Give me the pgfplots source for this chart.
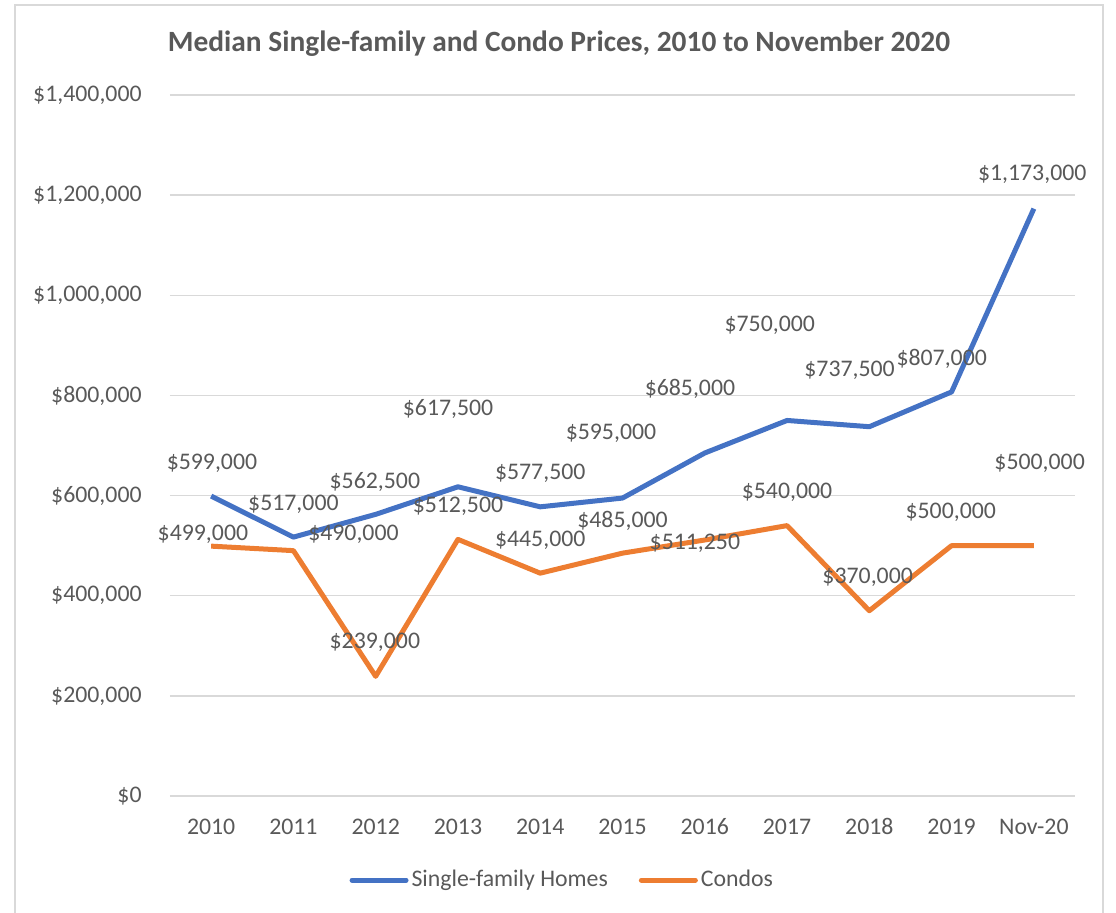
\documentclass[border=0pt]{standalone}
\usepackage{fontspec}
\setmainfont{Carlito}
\usepackage{pgfplots}
\pgfplotsset{compat=1.18}
\definecolor{sfblue}{HTML}{4472C4}
\definecolor{cdorange}{HTML}{ED7D31}
\definecolor{txt}{HTML}{595959}
\definecolor{gridgray}{HTML}{D9D9D9}
\begin{document}
\begin{tikzpicture}
\useasboundingbox (0pt,0pt) rectangle (558pt,-456.5pt);
\draw[gridgray, line width=0.75pt] (7.5pt,-470pt) -- (7.5pt,-2.5pt) -- (551.5pt,-2.5pt) -- (551.5pt,-470pt);
\node[font=\fontsize{14.7}{17}\selectfont\bfseries, text=txt] at (279.5pt,-22pt) {Median Single-family and Condo Prices, 2010 to November 2020};
\begin{axis}[
  at={(85pt,-398pt)}, anchor=south west,
  scale only axis, width=452.5pt, height=350.5pt,
  xmin=-0.5, xmax=10.5, ymin=0, ymax=1400000,
  axis line style={draw=none},
  major tick length=0pt,
  xmajorgrids=false, ymajorgrids=true,
  y grid style={gridgray, line width=0.75pt},
  xtick={0,...,10},
  xticklabels={2010,2011,2012,2013,2014,2015,2016,2017,2018,2019,Nov-20},
  ytick={0,200000,400000,600000,800000,1000000,1200000,1400000},
  yticklabels={{\$0},{\$200,000},{\$400,000},{\$600,000},{\$800,000},{\$1,000,000},{\$1,200,000},{\$1,400,000}},
  scaled y ticks=false,
  ticklabel style={font=\fontsize{11.9}{14}\selectfont, text=txt},
  yticklabel style={anchor=east, inner sep=0pt, xshift=-14pt},
  xticklabel style={anchor=base, inner sep=0pt, yshift=-19.25pt},
  clip=false,
  legend columns=2,
  legend style={at={(0.434,-0.12)}, anchor=center, draw=none, fill=none,
    font=\fontsize{11.9}{14}\selectfont, text=txt,
    /tikz/every even column/.append style={column sep=14pt},
    inner sep=0pt, nodes={inner sep=1.5pt}},
  legend image code/.code={\draw[#1, line cap=round] (0pt,0pt) -- (27pt,0pt);},
  every axis plot/.append style={line width=2.5pt, line join=round},
]
\addplot[sfblue, mark=none] coordinates {(0,599000) (1,517000) (2,562500) (3,617500) (4,577500) (5,595000) (6,685000) (7,750000) (8,737500) (9,807000) (10,1173000)};
\addlegendentry{Single-family Homes}
\addplot[cdorange, mark=none] coordinates {(0,499000) (1,490000) (2,239000) (3,512500) (4,445000) (5,485000) (6,511250) (7,540000) (8,370000) (9,500000) (10,500000)};
\addlegendentry{Condos}
\begin{scope}[every node/.style={font=\fontsize{11.9}{14}\selectfont, text=txt, inner sep=0pt}]
\node at (axis cs:0.01,664000) {\$599,000};
\node at (axis cs:1.0,582000) {\$517,000};
\node at (axis cs:1.99,628000) {\$562,500};
\node at (axis cs:2.88,772000) {\$617,500};
\node at (axis cs:4.0,644000) {\$577,500};
\node at (axis cs:4.86,724000) {\$595,000};
\node at (axis cs:5.82,814000) {\$685,000};
\node at (axis cs:6.79,940000) {\$750,000};
\node at (axis cs:7.76,850000) {\$737,500};
\node at (axis cs:8.88,872000) {\$807,000};
\node at (axis cs:9.98,1242000) {\$1,173,000};
\node at (axis cs:-0.1,522000) {\$499,000};
\node at (axis cs:1.73,522000) {\$490,000};
\node at (axis cs:1.99,306000) {\$239,000};
\node at (axis cs:3.0,578000) {\$512,500};
\node at (axis cs:4.0,510000) {\$445,000};
\node at (axis cs:5.0,550000) {\$485,000};
\node at (axis cs:5.88,504000) {\$511,250};
\node at (axis cs:7.0,606000) {\$540,000};
\node at (axis cs:7.98,436000) {\$370,000};
\node at (axis cs:8.99,566000) {\$500,000};
\node at (axis cs:10.07,664000) {\$500,000};
\end{scope}
\end{axis}
\end{tikzpicture}
\end{document}
